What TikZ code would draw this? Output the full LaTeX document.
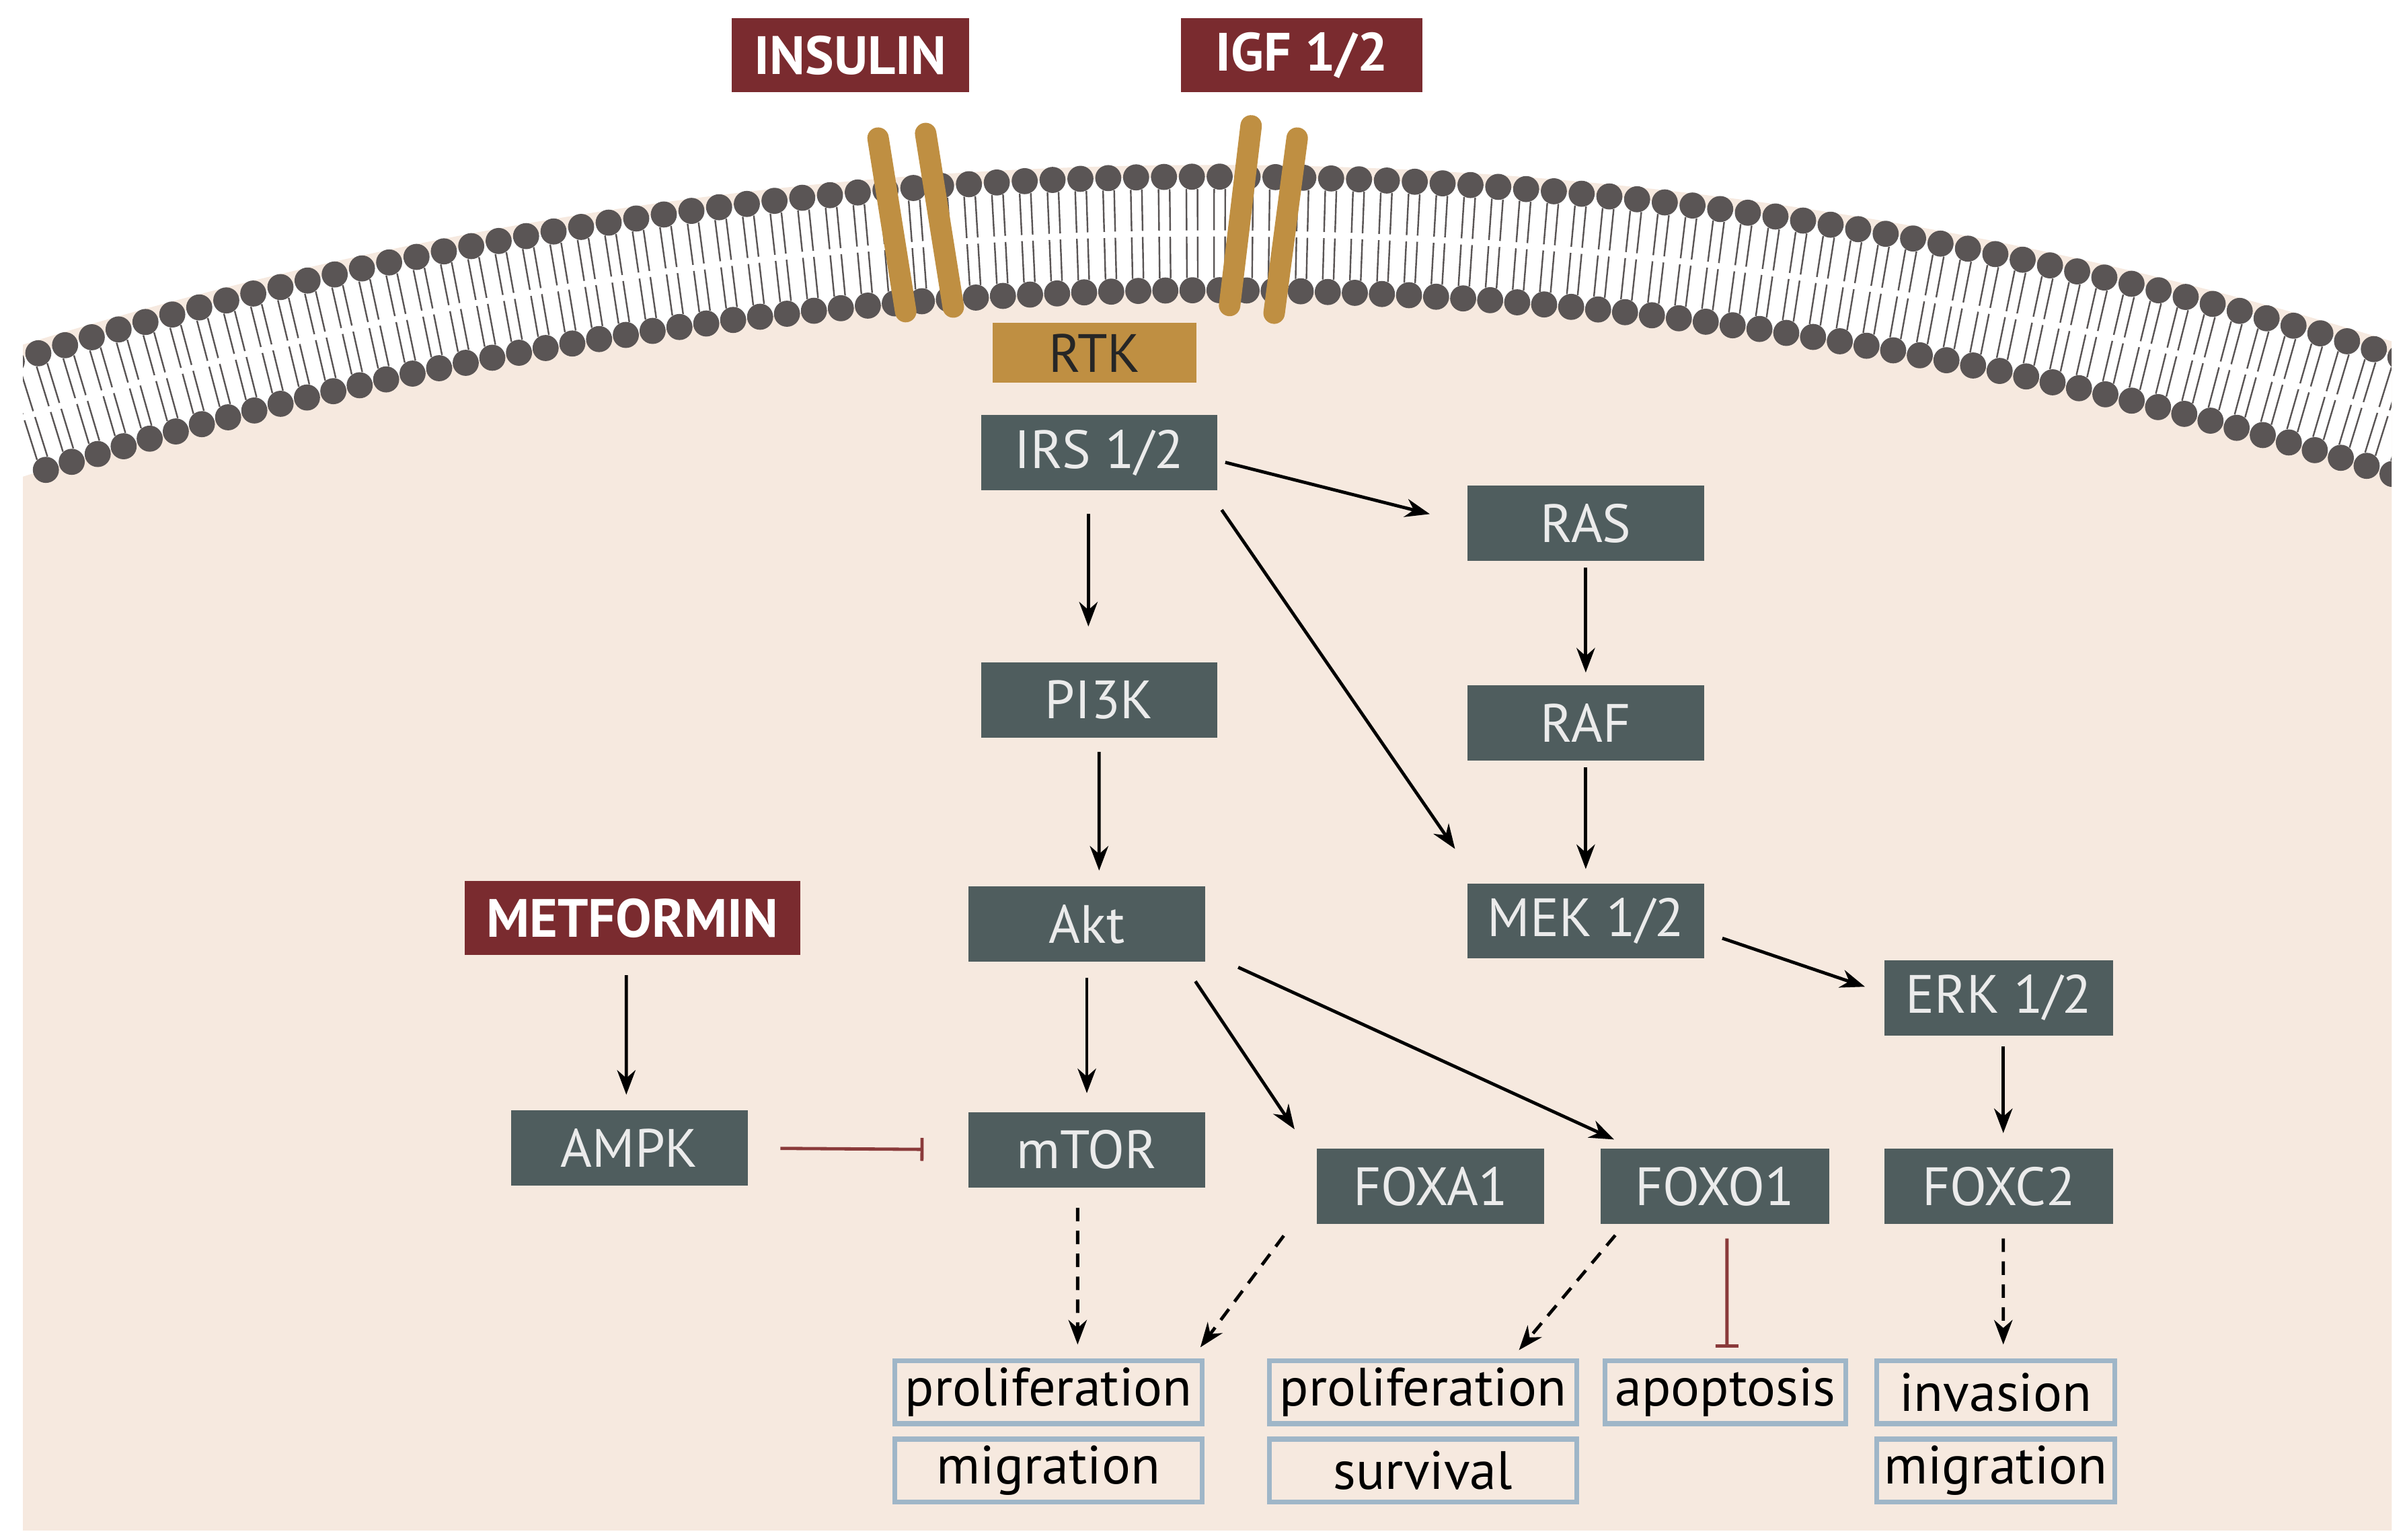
\documentclass[tikz,border=0pt]{standalone}
\usepackage{fontspec}
\setmainfont{PT Sans}
\usetikzlibrary{arrows.meta,calc}
\definecolor{cred}{HTML}{7A2B2F}
\definecolor{cgray}{HTML}{4F5D5E}
\definecolor{cgold}{HTML}{BF8F42}
\definecolor{cbeige}{HTML}{F6E9DF}
\definecolor{cblue}{HTML}{9FB6C8}
\definecolor{cinh}{HTML}{8A3A3A}
\definecolor{chead}{HTML}{5A5555}
\begin{document}
\begin{tikzpicture}[x=0.02cm,y=-0.02cm,
  base/.style={inner sep=0pt,minimum height=0.98cm,font=\fontsize{20}{24}\selectfont},
  gbox/.style={base,fill=cgray,text=white!92!black,minimum width=3.08cm},
  rbox/.style={base,fill=cred,text=white,font=\fontsize{20}{24}\selectfont\bfseries,minimum height=0.96cm},
  obox/.style={inner sep=0pt,draw=cblue,line width=1.8pt,fill=cbeige,minimum height=0.82cm,font=\fontsize{20}{24}\selectfont},
  arr/.style={line width=1.2pt,-{Stealth[length=0.32cm,width=0.24cm]}},
  darr/.style={arr,dash pattern=on 5pt off 3.5pt},
  inh/.style={line width=1.2pt,color=cinh,-{Bar[width=0.3cm]}},
  rec/.style={line width=0.28cm,color=cgold,line cap=round}]
\useasboundingbox (0,0) rectangle (1568,1003);
\fill[white] (0,0) rectangle (1568,1003);
% cytoplasm and membrane
\begin{scope}
\clip (15,0) rectangle (1558,997);
\fill[cbeige] (790,2717) circle[radius=52.2cm];
\fill[white] (790,2717) circle[radius=52.04cm];
\fill[cbeige] (790,2717) circle[radius=50.56cm];
\foreach \a in {72.3,72.7,...,107.8}{
  \foreach \d in {-0.08,0.08}{
    \draw[chead,line width=0.6pt] ({790+2594*cos(\a+\d)},{2717-2594*sin(\a+\d)}) -- ({790+2567*cos(\a+\d)},{2717-2567*sin(\a+\d)});
    \draw[chead,line width=0.6pt] ({790+2563*cos(\a+\d)},{2717-2563*sin(\a+\d)}) -- ({790+2536*cos(\a+\d)},{2717-2536*sin(\a+\d)});
  }
  \fill[chead] ({790+2602*cos(\a)},{2717-2602*sin(\a)}) circle[radius=0.17cm];
  \fill[chead] ({790+2528*cos(\a)},{2717-2528*sin(\a)}) circle[radius=0.17cm];
}
\end{scope}
% receptors
\draw[rec] (572,90) -- (590,203);
\draw[rec] (603,87) -- (621,200);
\draw[rec] (815,82) -- (801,199);
\draw[rec] (845,90) -- (830,204);
% nodes
\node[rbox,minimum width=3.1cm] (ins) at (554,36) {INSULIN};
\node[rbox,minimum width=3.14cm] (igf) at (848,36) {IGF 1/2};
\node[base,fill=cgold,text=black!85,minimum width=2.66cm,minimum height=0.78cm] (rtk) at (713,230) {RTK};
\node[gbox] (irs) at (716,295) {IRS 1/2};
\node[gbox] (ras) at (1033,341) {RAS};
\node[gbox] (pi3k) at (716,456) {PI3K};
\node[gbox] (raf) at (1033,471) {RAF};
\node[rbox,minimum width=4.38cm] (met) at (412,598) {METFORMIN};
\node[gbox] (akt) at (708,602) {Akt};
\node[gbox] (mek) at (1033,600) {MEK 1/2};
\node[gbox,minimum width=2.98cm] (erk) at (1302,650) {ERK 1/2};
\node[gbox] (ampk) at (410,748) {AMPK};
\node[gbox] (mtor) at (708,749) {mTOR};
\node[gbox,minimum width=2.96cm] (foxa) at (932,773) {FOXA1};
\node[gbox,minimum width=2.98cm] (foxo) at (1117,773) {FOXO1};
\node[gbox,minimum width=2.98cm] (foxc) at (1302,773) {FOXC2};
\node[obox,minimum width=4.0cm] (p1) at (683,907) {proliferation};
\node[obox,minimum width=4.0cm] (m1) at (683,958) {migration};
\node[obox,minimum width=4.0cm] (p2) at (927,907) {proliferation};
\node[obox,minimum width=4.0cm] (s2) at (927,958) {survival};
\node[obox,minimum width=3.14cm] (apo) at (1124,907) {apoptosis};
\node[obox,minimum width=3.1cm] (inv) at (1300,907) {invasion};
\node[obox,minimum width=3.1cm] (m3) at (1300,958) {migration};
% connectors
\draw[arr,shorten <=0.1cm,shorten >=0.5cm] ([yshift=-0.1cm]irs.east) -- (ras.west);
\draw[arr,shorten <=0.3cm,shorten >=0.46cm] ([xshift=-0.14cm]irs.south) -- ([xshift=-0.14cm]pi3k.north);
\draw[arr,shorten <=0.3cm,shorten >=0.1cm] ([xshift=-0.12cm]irs.south east) -- ([xshift=-0.1cm,yshift=0.36cm]mek.north west);
\draw[arr,shorten <=0.08cm,shorten >=0.16cm] (ras) -- (raf);
\draw[arr,shorten <=0.08cm,shorten >=0.18cm] (raf) -- (mek);
\draw[arr,shorten <=0.18cm,shorten >=0.2cm] (pi3k) -- ([xshift=0.16cm]akt.north);
\draw[arr,shorten <=0.14cm,shorten >=0.26cm] ([xshift=0.1cm,yshift=-0.18cm]mek.east) -- ([yshift=0.06cm]erk.west);
\draw[arr,shorten <=0.14cm,shorten >=0.2cm] ([xshift=0.06cm]erk.south) -- ([xshift=0.06cm]foxc.north);
\draw[arr,shorten <=0.26cm,shorten >=0.2cm] ([xshift=-0.08cm]met.south) -- ([xshift=-0.04cm]ampk.north);
\draw[inh,shorten <=0.42cm,shorten >=0.58cm] (ampk.east) -- (mtor.west);
\draw[arr,shorten <=0.2cm,shorten >=0.24cm] (akt) -- (mtor);
\draw[arr,shorten <=0.3cm,shorten >=0.3cm] ([xshift=-0.3cm]akt.south east) -- ([xshift=-0.12cm]foxa.north west);
\draw[arr,shorten <=0.16cm,shorten >=0.28cm] ([xshift=0.28cm]akt.south east) -- ([xshift=0.44cm]foxo.north west);
\draw[darr,shorten <=0.26cm,shorten >=0.18cm] ([xshift=-0.12cm]mtor.south) -- ([xshift=0.38cm]p1.north);
\draw[darr,shorten <=0.18cm,shorten >=0.18cm] ([xshift=-0.32cm]foxa.south west) -- ([xshift=-0.16cm]p1.north east);
\draw[darr,shorten <=0.18cm,shorten >=0.14cm] ([xshift=-1.18cm]foxo.south) -- ([xshift=1.16cm]p2.north);
\draw[inh,shorten <=0.18cm,shorten >=0.14cm] ([xshift=0.16cm]foxo.south) -- ([xshift=0.02cm]apo.north);
\draw[darr,shorten <=0.18cm,shorten >=0.18cm] ([xshift=0.06cm]foxc.south) -- ([xshift=0.1cm]inv.north);
\end{tikzpicture}
\end{document}
